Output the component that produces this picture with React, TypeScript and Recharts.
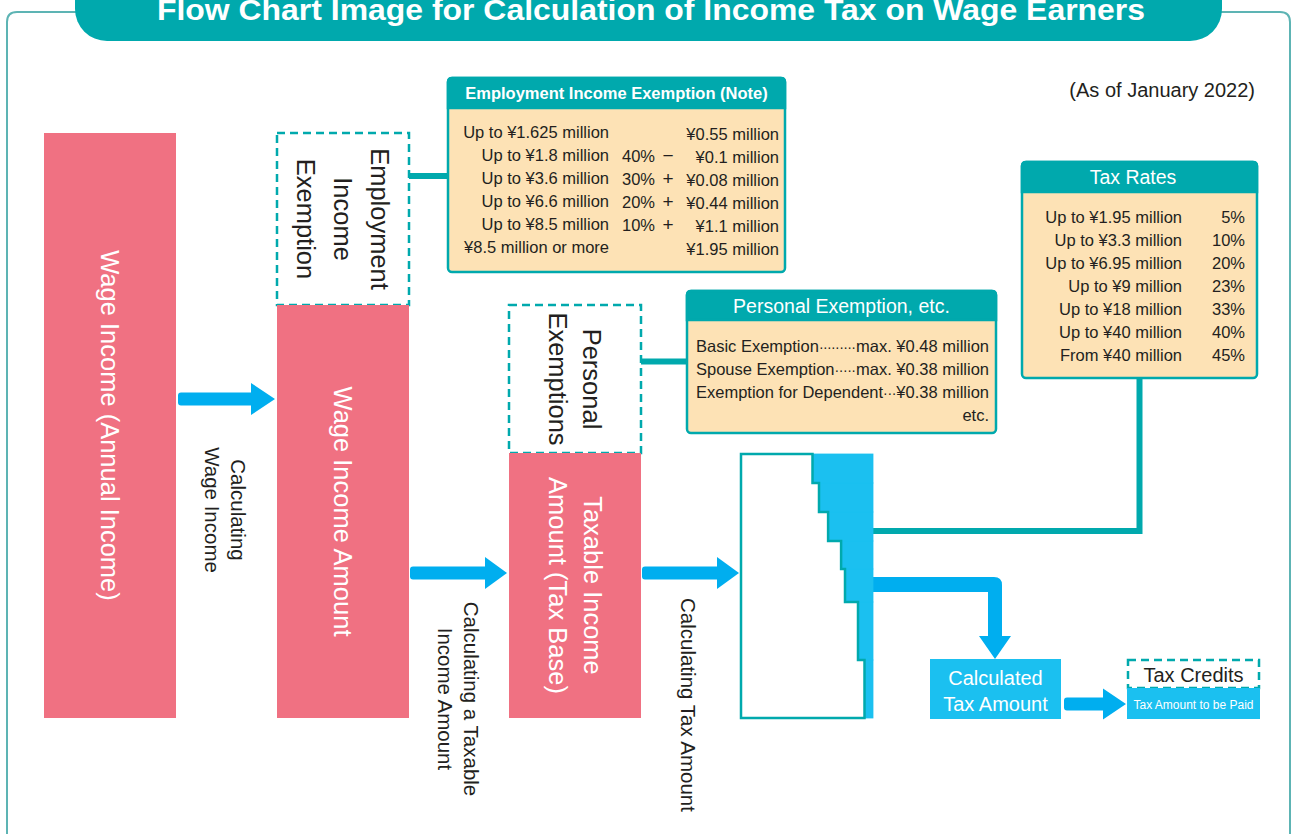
import React from 'react';
import { ComposedChart, XAxis, YAxis, ReferenceArea, Customized } from 'recharts';

// ---------------- DATA (texts and values) ----------------
const TITLE = 'Flow Chart Image for Calculation of Income Tax on Wage Earners';
const AS_OF = '(As of January 2022)';

const COLUMN_LABELS: string[][] = [
  ['Wage Income (Annual Income)'],
  ['Wage Income Amount'],
  ['Taxable Income', 'Amount (Tax Base)'],
];
const EXEMPTION_LABELS: string[][] = [
  ['Employment', 'Income', 'Exemption'],
  ['Personal', 'Exemptions'],
];
const STEP_LABELS: string[][] = [
  ['Calculating', 'Wage Income'],
  ['Calculating a Taxable', 'Income Amount'],
  ['Calculating Tax Amount'],
];

const EMP_TITLE = 'Employment Income Exemption (Note)';
const EMP_BRACKETS = [
  'Up to ¥1.625 million',
  'Up to ¥1.8 million',
  'Up to ¥3.6 million',
  'Up to ¥6.6 million',
  'Up to ¥8.5 million',
  '¥8.5 million or more',
];
const EMP_RATES = ['', '40%', '30%', '20%', '10%', ''];
const EMP_OPS = ['', '−', '+', '+', '+', ''];
const EMP_AMOUNTS = [
  '¥0.55 million',
  '¥0.1 million',
  '¥0.08 million',
  '¥0.44 million',
  '¥1.1 million',
  '¥1.95 million',
];

const TAX_TITLE = 'Tax Rates';
const TAX_BRACKETS = [
  'Up to ¥1.95 million',
  'Up to ¥3.3 million',
  'Up to ¥6.95 million',
  'Up to ¥9 million',
  'Up to ¥18 million',
  'Up to ¥40 million',
  'From ¥40 million',
];
const TAX_RATES = [5, 10, 20, 23, 33, 40, 45];

const PERS_TITLE = 'Personal Exemption, etc.';
const PERS_ITEMS = ['Basic Exemption', 'Spouse Exemption', 'Exemption for Dependent'];
const PERS_AMOUNTS = ['max. ¥0.48 million', 'max. ¥0.38 million', '¥0.38 million'];
const PERS_ETC = 'etc.';

const RESULT_LABEL = ['Calculated', 'Tax Amount'];
const CREDIT_LABEL = 'Tax Credits';
const PAID_LABEL = 'Tax Amount to be Paid';

// ---------------- LAYOUT / STYLE ----------------
const W = 1295;
const H = 834;
const FONT = "'Liberation Sans', Arial, Helvetica, sans-serif";
const TEAL = '#00A9AD';
const BORDER = '#5DB4B4';
const PINK = '#F07182';
const PEACH = '#FDE2B5';
const ARROW = '#00AEEF';
const CYAN = '#1BC0F0';
const INK = '#231F20';

const COL_X = [44, 277, 509, 741];
const COL_W = 132;
const TOP = 133;
const BOTTOM = 718;
const SPLIT = [TOP, 305, 453];
const STAIR_Y = [718, 660, 602, 569, 541, 512, 483, 454];

let ctx: CanvasRenderingContext2D | null = null;
function measure(text: string, size: number, weight = 'normal') {
  if (!ctx) ctx = document.createElement('canvas').getContext('2d');
  if (!ctx) return text.length * size * 0.5;
  ctx.font = `${weight} ${size}px 'Liberation Sans'`;
  return ctx.measureText(text).width;
}

function rotLabel(lines: string[], color: string, size: number, lh: number) {
  return (props: any) => {
    const vb = props.viewBox || {};
    const cx = vb.x + vb.width / 2;
    const cy = vb.y + vb.height / 2;
    return (
      <text
        transform={`rotate(90 ${cx} ${cy})`}
        fill={color}
        fontSize={size}
        fontFamily={FONT}
        textAnchor="middle"
      >
        {lines.map((l, i) => (
          <tspan key={i} x={cx} y={cy + (i - (lines.length - 1) / 2) * lh + size * 0.35}>
            {l}
          </tspan>
        ))}
      </text>
    );
  };
}

function RotText({ lines, cx, cy, size, lh, color }: any) {
  return (
    <text transform={`rotate(90 ${cx} ${cy})`} fill={color} fontSize={size} fontFamily={FONT} textAnchor="middle">
      {lines.map((l: string, i: number) => (
        <tspan key={i} x={cx} y={cy + (i - (lines.length - 1) / 2) * lh + size * 0.35}>
          {l}
        </tspan>
      ))}
    </text>
  );
}

function arrowPath(x1: number, x2: number, yc: number, s: number, hl: number, hh: number) {
  const r = 3;
  const t = yc - s / 2;
  const b = yc + s / 2;
  return `M${x1 + r},${t} H${x2 - hl} V${yc - hh / 2} L${x2},${yc} L${x2 - hl},${yc + hh / 2} V${b} H${x1 + r} Q${x1},${b} ${x1},${b - r} V${t + r} Q${x1},${t} ${x1 + r},${t} Z`;
}

function Table({ x, y, w, h, hh, title, size, bold, tcx }: any) {
  const r = 4;
  return (
    <g>
      <rect x={x} y={y} width={w} height={h} rx={r} fill={PEACH} stroke={TEAL} strokeWidth={2.5} />
      <path
        d={`M${x},${y + hh} V${y + r} Q${x},${y} ${x + r},${y} H${x + w - r} Q${x + w},${y} ${x + w},${y + r} V${y + hh} Z`}
        fill={TEAL}
        stroke={TEAL}
        strokeWidth={2.5}
      />
      <text
        x={tcx}
        y={y + hh / 2 + size * 0.36}
        fill="#fff"
        fontSize={size}
        fontWeight={bold ? 'bold' : 'normal'}
        fontFamily={FONT}
        textAnchor="middle"
      >
        {title}
      </text>
    </g>
  );
}

function Overlay() {
  // staircase geometry from the tax rates
  const stairRight = COL_X[3] + COL_W;
  const stairLeft = TAX_RATES.map((r) => stairRight - (2 + 1.3 * r));
  let whitePath = `M${COL_X[3]},${STAIR_Y[7]} H${stairLeft[6]}`;
  for (let i = 6; i >= 0; i--) {
    whitePath += ` V${STAIR_Y[i]}`;
    if (i > 0) whitePath += ` H${stairLeft[i - 1]}`;
  }
  whitePath += ` H${COL_X[3]} Z`;

  const persLeft = 696;
  const persRight = 989;
  const persSize = 16.5;

  return (
    <g>
      {/* outer frame */}
      <path d="M7,834 V22 Q7,12 17,12 H90" fill="none" stroke={BORDER} strokeWidth={2} />
      <path d="M1200,12 H1280 Q1290,12 1290,22 V834" fill="none" stroke={BORDER} strokeWidth={2} />
      {/* title pill */}
      <rect x={75} y={-40} width={1147} height={81} rx={32} fill={TEAL} />
      <text
        x={651}
        y={20}
        fill="#fff"
        fontSize={29}
        fontWeight="bold"
        fontFamily={FONT}
        textAnchor="middle"
        textLength={988}
        lengthAdjust="spacingAndGlyphs"
      >
        {TITLE}
      </text>
      <text x={1255} y={97} fill={INK} fontSize={20} fontFamily={FONT} textAnchor="end">
        {AS_OF}
      </text>

      {/* connectors */}
      <line x1={408} y1={176} x2={449} y2={176} stroke={TEAL} strokeWidth={6} />
      <line x1={640} y1={361.5} x2={688} y2={361.5} stroke={TEAL} strokeWidth={6} />
      <path d={`M${stairRight},531 H1139.5 V377`} fill="none" stroke={TEAL} strokeWidth={6} />

      {/* arrows */}
      <path d={arrowPath(178, 275, 399, 13, 24, 32)} fill={ARROW} />
      <path d={arrowPath(410, 507, 573, 13, 22, 32)} fill={ARROW} />
      <path d={arrowPath(642, 739, 573, 13, 22, 32)} fill={ARROW} />
      <path d={arrowPath(1064, 1126, 704, 13, 23, 31)} fill={ARROW} />
      <path
        d={`M${stairRight},577 H994 Q1002,577 1002,585 V636 H1011 L995,659 L979,636 H988 V592 H${stairRight} Z`}
        fill={ARROW}
      />

      {/* step labels */}
      <RotText lines={STEP_LABELS[0]} cx={225} cy={510} size={20.5} lh={26} color={INK} />
      <RotText lines={STEP_LABELS[1]} cx={458} cy={699} size={20.5} lh={26} color={INK} />
      <RotText lines={STEP_LABELS[2]} cx={688} cy={705} size={20.5} lh={26} color={INK} />

      {/* staircase (tax amount) */}
      {TAX_RATES.map((r, i) => (
        <rect
          key={i}
          x={stairLeft[i]}
          y={STAIR_Y[i + 1]}
          width={stairRight - stairLeft[i]}
          height={STAIR_Y[i] - STAIR_Y[i + 1]}
          fill={CYAN}
          stroke={CYAN}
          strokeWidth={0.8}
        />
      ))}
      <path d={whitePath} fill="#fff" stroke={TEAL} strokeWidth={2.5} />

      {/* Employment income exemption table */}
      <Table x={448} y={78} w={337} h={194} hh={30} title={EMP_TITLE} size={16.5} bold tcx={616.5} />
      {EMP_BRACKETS.map((t, i) => {
        const y = 138 + i * 23;
        return (
          <g key={i} fontFamily={FONT} fontSize={16.5} fill={INK}>
            <text x={609} y={y} textAnchor="end">{t}</text>
            {EMP_RATES[i] && <text x={655} y={y + 1} textAnchor="end">{EMP_RATES[i]}</text>}
            {EMP_OPS[i] && <text x={668} y={y + 1} textAnchor="middle" fontSize={19}>{EMP_OPS[i]}</text>}
            <text x={779} y={y + 1.5} textAnchor="end">{EMP_AMOUNTS[i]}</text>
          </g>
        );
      })}

      {/* Tax rates table */}
      <Table x={1022} y={162} w={235} h={216} hh={30} title={TAX_TITLE} size={19.5} tcx={1133} />
      {TAX_BRACKETS.map((t, i) => {
        const y = 223 + i * 23;
        return (
          <g key={i} fontFamily={FONT} fontSize={16.5} fill={INK}>
            <text x={1182} y={y} textAnchor="end">{t}</text>
            <text x={1245} y={y} textAnchor="end">{TAX_RATES[i] + '%'}</text>
          </g>
        );
      })}

      {/* Personal exemption table */}
      <Table x={687} y={291} w={309} h={142} hh={29} title={PERS_TITLE} size={19.5} tcx={841.5} />
      {PERS_ITEMS.map((t, i) => {
        const y = 352 + i * 23;
        const lw = measure(t, persSize);
        const rw = measure(PERS_AMOUNTS[i], persSize);
        const gap = Math.max(6, persRight - rw - (persLeft + lw));
        const n = Math.max(2, Math.floor(gap / 4));
        return (
          <g key={i} fontFamily={FONT} fontSize={persSize} fill={INK}>
            <text x={persLeft} y={y}>{t}</text>
            <text x={persLeft + lw} y={y} textLength={gap} lengthAdjust="spacing" fontSize={14}>
              {'·'.repeat(n)}
            </text>
            <text x={persRight} y={y} textAnchor="end">{PERS_AMOUNTS[i]}</text>
          </g>
        );
      })}
      <text x={persRight} y={421} fontFamily={FONT} fontSize={persSize} fill={INK} textAnchor="end">
        {PERS_ETC}
      </text>

      {/* result boxes */}
      <rect x={930} y={659} width={131} height={60} fill={CYAN} />
      <text fontFamily={FONT} fontSize={20} fill="#fff" textAnchor="middle">
        <tspan x={995.5} y={685}>{RESULT_LABEL[0]}</tspan>
        <tspan x={995.5} y={711}>{RESULT_LABEL[1]}</tspan>
      </text>
      <rect x={1128} y={660} width={131} height={28} fill="#fff" stroke={TEAL} strokeWidth={2.5} strokeDasharray="8 5" />
      <text x={1193.5} y={682} fontFamily={FONT} fontSize={20} fill={INK} textAnchor="middle">
        {CREDIT_LABEL}
      </text>
      <rect x={1127} y={688} width={133} height={31} fill={CYAN} />
      <text x={1193.5} y={709} fontFamily={FONT} fontSize={12} fill="#fff" textAnchor="middle">
        {PAID_LABEL}
      </text>
    </g>
  );
}

export default function App() {
  return (
    <div style={{ position: 'absolute', left: 0, top: 0, width: W, height: H, background: '#fff' }}>
      <ComposedChart
        width={W}
        height={H}
        data={[{ x: 0, y: 0 }, { x: W, y: H }]}
        margin={{ top: 0, right: 0, bottom: 0, left: 0 }}
      >
        <XAxis type="number" dataKey="x" domain={[0, W]} hide allowDataOverflow />
        <YAxis type="number" dataKey="y" domain={[0, H]} reversed hide allowDataOverflow />
        {/* Wage income column */}
        <ReferenceArea
          x1={COL_X[0]}
          x2={COL_X[0] + COL_W}
          y1={TOP}
          y2={BOTTOM}
          fill={PINK}
          fillOpacity={1}
          stroke="none"
          ifOverflow="visible"
          label={rotLabel(COLUMN_LABELS[0], '#fff', 25.5, 36)}
        />
        {/* Wage income amount column + employment income exemption */}
        <ReferenceArea
          x1={COL_X[1]}
          x2={COL_X[1] + COL_W}
          y1={SPLIT[0]}
          y2={SPLIT[1]}
          fill="#fff"
          fillOpacity={1}
          stroke={TEAL}
          strokeWidth={2.5}
          strokeDasharray="8 5"
          ifOverflow="visible"
          label={rotLabel(EXEMPTION_LABELS[0], INK, 25.5, 37)}
        />
        <ReferenceArea
          x1={COL_X[1]}
          x2={COL_X[1] + COL_W}
          y1={SPLIT[1]}
          y2={BOTTOM}
          fill={PINK}
          fillOpacity={1}
          stroke="none"
          ifOverflow="visible"
          label={rotLabel(COLUMN_LABELS[1], '#fff', 25.5, 36)}
        />
        {/* Taxable income column + personal exemptions */}
        <ReferenceArea
          x1={COL_X[2]}
          x2={COL_X[2] + COL_W}
          y1={SPLIT[1]}
          y2={SPLIT[2]}
          fill="#fff"
          fillOpacity={1}
          stroke={TEAL}
          strokeWidth={2.5}
          strokeDasharray="8 5"
          ifOverflow="visible"
          label={rotLabel(EXEMPTION_LABELS[1], INK, 25.5, 34)}
        />
        <ReferenceArea
          x1={COL_X[2]}
          x2={COL_X[2] + COL_W}
          y1={SPLIT[2]}
          y2={BOTTOM}
          fill={PINK}
          fillOpacity={1}
          stroke="none"
          ifOverflow="visible"
          label={rotLabel(COLUMN_LABELS[2], '#fff', 25.5, 35)}
        />
        <Customized component={<Overlay />} />
      </ComposedChart>
    </div>
  );
}
